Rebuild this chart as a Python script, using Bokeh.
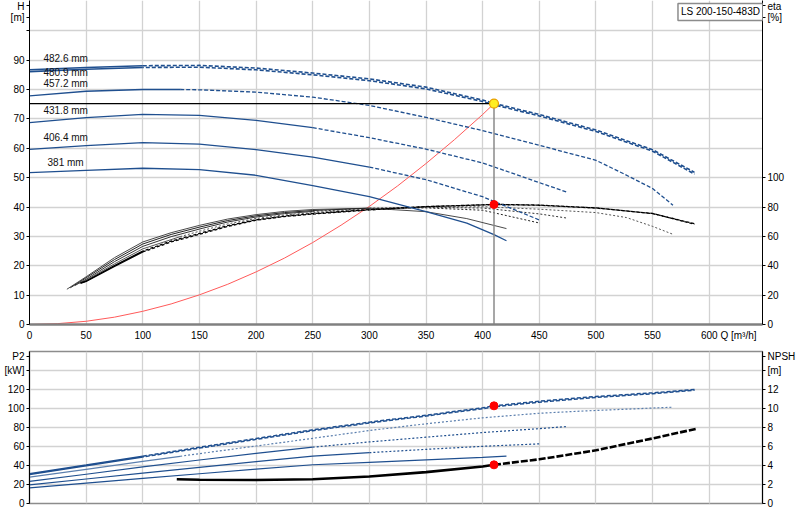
from bokeh.plotting import figure
from bokeh.models import Range1d, LinearAxis, FixedTicker, Label, Grid
from bokeh.layouts import column
from bokeh.embed import file_html
from bokeh.resources import INLINE
from bokeh.core.properties import value

FONT = "Liberation Sans"

# ---------------- data ----------------
diam_labels = ["482.6 mm", "480.9 mm", "457.2 mm", "431.8 mm", "406.4 mm", "381 mm"]
label_q = [12.3, 12.3, 12.3, 12.3, 12.3, 15.9]
label_h = [90.7, 85.7, 82.2, 73.0, 63.5, 55.2]

# Head curves H [m]
q_h_4826 = [0, 50, 100, 150, 200, 250, 300, 350, 400, 410, 450, 500, 550, 587]
h_4826 = [86.7, 87.5, 88.1, 88.2, 87.3, 85.6, 83.6, 80.8, 76.4, 75.3, 71.5, 66.2, 59.5, 51.8]
q_h_4809 = [0, 50, 100, 150, 200, 250, 300, 350, 400, 410, 450, 500, 550, 587]
h_4809 = [86.1, 86.9, 87.5, 87.6, 86.7, 85.0, 83.0, 80.2, 75.9, 74.8, 71.0, 65.7, 59.0, 51.2]
q_h_4572 = [0, 50, 100, 133, 150, 200, 250, 300, 350, 400, 450, 500, 524, 550, 568]
h_4572 = [77.8, 79.4, 80.0, 80.0, 79.9, 79.1, 77.4, 74.6, 70.5, 66.0, 61.0, 55.9, 51.4, 46.3, 40.6]
q_h_4318 = [0, 50, 100, 150, 200, 250, 300, 350, 400, 450, 474]
h_4318 = [68.7, 70.4, 71.5, 71.2, 69.5, 67.0, 63.6, 59.7, 55.0, 48.3, 45.1]
q_h_4064 = [0, 50, 100, 150, 200, 250, 300, 350, 400, 450.6]
h_4064 = [59.6, 60.9, 61.9, 61.4, 59.5, 57.0, 53.6, 49.3, 43.5, 35.5]
q_h_381 = [0, 50, 100, 150, 200, 250, 300, 350, 386, 410, 421]
h_381 = [51.7, 52.5, 53.2, 52.7, 50.8, 47.3, 43.5, 38.4, 34.5, 30.6, 28.5]

# Efficiency curves eta [%]
q_e_4826 = [45, 50, 75, 100, 125, 150, 175, 200, 225, 250, 300, 350, 400, 410, 450, 500, 550, 587]
e_4826 = [28.0, 29.3, 39.6, 49.4, 56.2, 61.4, 66.8, 71.0, 73.5, 75.2, 78.0, 80.2, 81.4, 81.7, 81.2, 79.3, 75.5, 68.6]
q_e_4809 = [45, 50, 75, 100, 125, 150, 175, 200, 225, 250, 300, 350, 400, 410, 450, 500, 550, 587]
e_4809 = [28.3, 29.6, 40.2, 50.0, 56.8, 62.0, 67.3, 71.3, 73.8, 75.5, 78.2, 80.3, 81.5, 81.8, 81.3, 79.4, 75.6, 68.3]
q_e_4572 = [43, 50, 75, 100, 133, 150, 175, 200, 225, 250, 300, 350, 400, 450, 500, 527, 550, 568]
e_4572 = [28.0, 30.2, 41.3, 51.5, 59.8, 63.5, 68.5, 72.2, 74.6, 76.2, 78.6, 80.0, 80.2, 78.5, 76.2, 72.8, 66.8, 61.4]
q_e_4318 = [40, 50, 75, 100, 125, 150, 175, 200, 225, 250, 300, 350, 400, 450, 474]
e_4318 = [26.5, 30.8, 42.8, 53.2, 59.8, 65.0, 69.8, 73.2, 75.5, 77.0, 79.0, 79.8, 79.3, 75.3, 72.5]
q_e_4064 = [36, 50, 75, 100, 125, 150, 175, 200, 225, 250, 300, 350, 400, 450.6]
e_4064 = [25.0, 31.8, 44.2, 54.8, 61.3, 66.3, 70.8, 74.0, 76.2, 77.6, 79.2, 79.4, 77.8, 69.0]
q_e_381 = [33, 50, 75, 100, 125, 150, 175, 200, 225, 250, 300, 350, 386, 421]
e_381 = [24.0, 32.5, 45.5, 56.2, 62.5, 67.5, 71.8, 74.8, 77.0, 78.3, 79.2, 76.8, 72.1, 65.3]

# System curve
q_sys = [0, 25, 50, 75, 100, 125, 150, 175, 200, 225, 250, 275, 300, 325, 350, 375, 400, 410]
h_sys = [0, 0.3, 1.1, 2.5, 4.5, 7.0, 10.1, 13.7, 17.9, 22.6, 27.9, 33.8, 40.2, 47.2, 54.8, 62.9, 71.5, 75.2]

# Power curves P2 [kW]
q_p_4826 = [0, 50, 100, 150, 200, 250, 300, 350, 400, 410, 450, 500, 550, 587]
p_4826 = [31.3, 40.5, 49.8, 59.2, 68.4, 77.6, 85.6, 93.0, 100.7, 102.8, 107.7, 112.6, 116.5, 120.0]
q_p_4809 = [0, 50, 100, 150, 200, 250, 300, 350, 400, 410, 450, 500, 550, 587]
p_4809 = [30.5, 39.7, 49.0, 58.3, 67.5, 76.7, 84.7, 92.1, 99.8, 101.8, 106.7, 111.6, 115.6, 119.2]
q_p_4572 = [0, 50, 100, 133, 150, 200, 250, 300, 350, 400, 450, 486, 568]
p_4572 = [27.7, 36.0, 44.3, 49.7, 52.5, 60.5, 68.6, 76.8, 83.9, 90.2, 95.0, 97.2, 101.4]
q_p_4318 = [0, 50, 100, 150, 200, 250, 300, 350, 400, 450, 474]
p_4318 = [23.2, 30.8, 38.5, 45.8, 52.8, 59.3, 64.8, 69.8, 74.7, 78.8, 81.0]
q_p_4064 = [0, 50, 100, 150, 200, 250, 300, 350, 400, 450.6]
p_4064 = [19.6, 25.8, 31.9, 38.0, 44.1, 49.8, 53.5, 57.0, 60.2, 62.8]
q_p_381 = [0, 50, 100, 150, 200, 250, 300, 350, 400, 421]
p_381 = [16.5, 21.5, 26.4, 31.3, 36.2, 40.8, 43.3, 46.0, 48.5, 49.8]

# NPSH [m]
q_npsh = [130, 150, 200, 250, 300, 350, 400, 410, 450, 500, 550, 588]
npsh = [2.55, 2.5, 2.48, 2.55, 2.85, 3.3, 3.9, 4.07, 4.65, 5.6, 6.85, 7.85]

# Duty point
op_q = [410]
op_h = [75.2]
op_eta = [81.7]
op_p2 = [102.8]
op_npsh = [4.07]

q_ticks = [0, 50, 100, 150, 200, 250, 300, 350, 400, 450, 500, 550, 600]
h_ticks = [0, 10, 20, 30, 40, 50, 60, 70, 80, 90, 100]
eta_ticks = [0, 20, 40, 60, 80, 100]
p_ticks = [0, 20, 40, 60, 80, 100, 120, 140]
npsh_ticks = [0, 2, 4, 6, 8, 10, 12, 14]

# axis title texts, placed as tick labels next to the axes
q_title = {625.8: "Q [m³/h]"}
h_title = {100: "", 104.6: "[m]", 108.6: "H"}
eta_title = {209.3: "[%]", 217.2: "eta"}
p_title = {140: "[kW]", 155: "P2"}
npsh_title = {14: "[m]", 15.5: "NPSH"}

BLUE = "#1f4f8f"
GRID = "#d2d2d2"


def style_axis(ax, tick_out=3, standoff=2):
    ax.major_label_text_font = FONT
    ax.major_label_text_font_size = "10px"
    ax.major_label_text_color = "#000000"
    ax.major_tick_out = tick_out
    ax.major_tick_in = 0
    ax.minor_tick_line_color = None
    ax.major_label_standoff = standoff
    ax.axis_line_color = "#000000"
    ax.major_tick_line_color = "#000000"


def split_line(fig, q, v, split, color, width, dash, dash_offset=0, **kw):
    qs = [a for a in q if a <= split]
    vs = v[:len(qs)]
    if len(qs) > 1:
        fig.line(qs, vs, line_color=color, line_width=width, **kw)
    k = len(qs) - 1 if len(qs) > 0 else 0
    qd = q[k:]
    vd = v[k:]
    if len(qd) > 1:
        fig.line(qd, vd, line_color=color, line_width=width, line_dash=dash,
                 line_dash_offset=dash_offset, **kw)


# ---------------- top chart ----------------
xr = Range1d(0, 647)
top = figure(width=800, height=346, x_range=xr, y_range=Range1d(0, 110.3),
             output_backend="svg", toolbar_location=None,
             min_border_left=29, min_border_right=38, min_border_top=0, min_border_bottom=22)
top.extra_y_ranges = {"eta": Range1d(0, 220.6)}
top.outline_line_color = None

top.xaxis.ticker = FixedTicker(ticks=q_ticks + list(q_title.keys()))
top.xaxis.major_label_overrides = q_title
style_axis(top.xaxis[0], tick_out=0, standoff=5)
top.xaxis.major_tick_line_color = None
top.xaxis.axis_line_color = "#808080"
top.xaxis.axis_line_width = 2.5

top.yaxis.ticker = FixedTicker(ticks=h_ticks + [104.6, 108.6])
top.yaxis.major_label_overrides = h_title
style_axis(top.yaxis[0])

eta_ax = LinearAxis(y_range_name="eta", ticker=FixedTicker(ticks=eta_ticks + list(eta_title.keys())))
eta_ax.major_label_overrides = eta_title
style_axis(eta_ax)
top.add_layout(eta_ax, "right")

top.xgrid.ticker = FixedTicker(ticks=q_ticks[1:])
top.ygrid.ticker = FixedTicker(ticks=h_ticks[1:])
top.xgrid.grid_line_color = GRID
top.ygrid.grid_line_color = GRID
top.xgrid.grid_line_width = 1.3
top.ygrid.grid_line_width = 1.5

# system curve
top.line(q_sys, h_sys, line_color="#ff5a5a", line_width=1)

# efficiency curves
split_line(top, q_e_381, e_381, 1000, "#4a4a4a", 1, "solid", y_range_name="eta")
split_line(top, q_e_4064, e_4064, 300, "#222222", 1, "2 2", y_range_name="eta")
split_line(top, q_e_4318, e_4318, 250, "#333333", 1, "2 2", y_range_name="eta")
split_line(top, q_e_4572, e_4572, 133, "#555555", 1, "2 2", y_range_name="eta")
split_line(top, q_e_4809, e_4809, 100, "#000000", 1.3, "3 2", 2, y_range_name="eta")
split_line(top, q_e_4826, e_4826, 100, "#000000", 1.3, "3 2", y_range_name="eta")

# head curves
split_line(top, q_h_381, h_381, 1000, BLUE, 1.3, "solid")
split_line(top, q_h_4064, h_4064, 300, BLUE, 1.3, "4 2")
split_line(top, q_h_4318, h_4318, 250, BLUE, 1.3, "4 2")
split_line(top, q_h_4572, h_4572, 133, BLUE, 1.3, "4 2")
split_line(top, q_h_4809, h_4809, 100, BLUE, 1.6, "4 2", 3)
split_line(top, q_h_4826, h_4826, 100, BLUE, 1.6, "4 2")

# duty point lines
top.line([0, op_q[0]], [op_h[0], op_h[0]], line_color="#000000", line_width=1.2)
top.line([op_q[0], op_q[0]], [0, op_h[0]], line_color="#8a8a8a", line_width=1.5)
top.scatter(op_q, op_eta, y_range_name="eta", size=8, fill_color="#ff0000", line_color="#ff0000")
top.scatter(op_q, op_h, size=9, fill_color="#ffee22", line_color="#e8a000", line_width=1.2)

top.text(x=label_q, y=label_h, text=diam_labels, text_font=value(FONT), text_font_size="10px",
         text_baseline="middle", text_align="left", text_color="#111111")

top.add_layout(Label(x=572.4, y=109.3, text="LS 200-150-483D", text_align="left",
                     text_baseline="top", text_font=FONT, text_font_size="10px",
                     text_color="#000000", border_line_color="#8c8c8c", border_line_width=1.5,
                     background_fill_color="white", padding=3))

# ---------------- bottom chart ----------------
bot = figure(width=800, height=167, x_range=xr, y_range=Range1d(0, 160),
             output_backend="svg", toolbar_location=None,
             x_axis_location=None, y_axis_location=None,
             min_border_left=29, min_border_right=38, min_border_top=5, min_border_bottom=10)
bot.extra_y_ranges = {"npsh": Range1d(0, 16)}
bot.outline_line_color = "#8c8c8c"
bot.outline_line_width = 1.5

p_ax = LinearAxis(ticker=FixedTicker(ticks=p_ticks + [155]))
p_ax.major_label_overrides = p_title
style_axis(p_ax)
bot.add_layout(p_ax, "left")
n_ax = LinearAxis(y_range_name="npsh", ticker=FixedTicker(ticks=npsh_ticks + [15.5]))
n_ax.major_label_overrides = npsh_title
style_axis(n_ax)
bot.add_layout(n_ax, "right")

bot.add_layout(Grid(dimension=0, ticker=FixedTicker(ticks=q_ticks[1:]), grid_line_color=GRID,
                    grid_line_width=1.3))
bot.add_layout(Grid(dimension=1, ticker=FixedTicker(ticks=p_ticks[1:]), grid_line_color=GRID,
                    grid_line_width=1.5))

split_line(bot, q_p_381, p_381, 1000, BLUE, 1.2, "solid")
split_line(bot, q_p_4064, p_4064, 300, BLUE, 1.2, "2 2")
split_line(bot, q_p_4318, p_4318, 250, BLUE, 1.2, "2 2")
split_line(bot, q_p_4572, p_4572, 133, "#5b7fae", 1.2, "2 2")
split_line(bot, q_p_4809, p_4809, 100, BLUE, 1.5, "4 2", 3)
split_line(bot, q_p_4826, p_4826, 100, BLUE, 1.5, "4 2")

split_line(bot, q_npsh, npsh, 410, "#000000", 2.6, "7 2", y_range_name="npsh")

bot.scatter(op_q, op_p2, size=8, fill_color="#ff0000", line_color="#ff0000")
bot.scatter(op_q, op_npsh, y_range_name="npsh", size=8, fill_color="#ff0000", line_color="#ff0000")

layout = column(top, bot, spacing=0)
open("out.html", "w").write(file_html(layout, INLINE))
